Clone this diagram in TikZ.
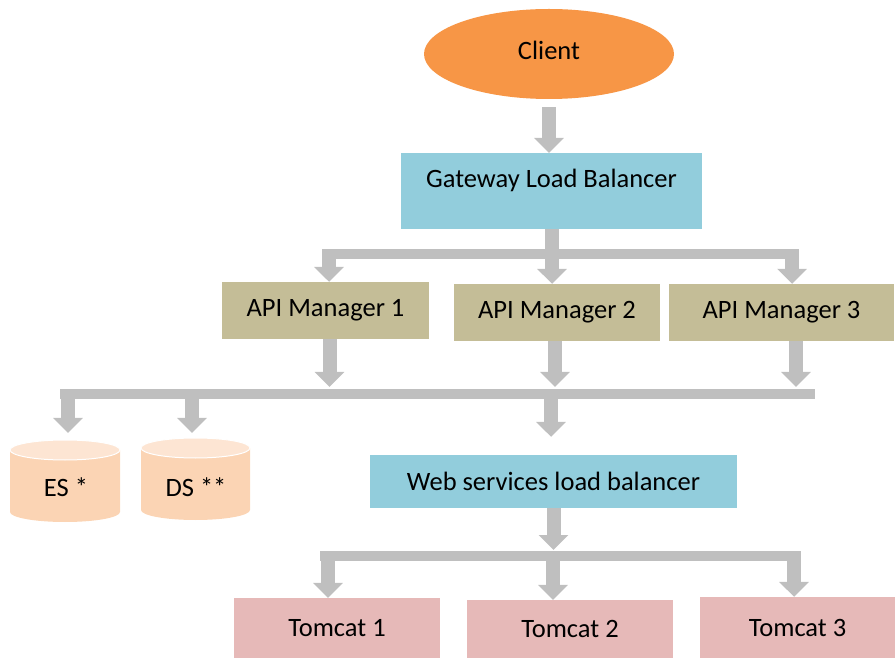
\documentclass[tikz,border=0pt]{standalone}
\usepackage{fontspec}
\setmainfont{Carlito}
\usetikzlibrary{arrows.meta,shapes.geometric}
\definecolor{cOrange}{HTML}{F79646}
\definecolor{cBlue}{HTML}{92CDDC}
\definecolor{cTan}{HTML}{C4BD97}
\definecolor{cPink}{HTML}{E6B9B8}
\definecolor{cGray}{HTML}{BFBFBF}
\definecolor{cBody}{HTML}{FBD4B4}
\definecolor{cTop}{HTML}{FDE5D3}
\begin{document}
\begin{tikzpicture}[x=1pt,y=1pt,
  font=\fontsize{26.5}{30}\selectfont,
  box/.style={rectangle, inner sep=0pt, draw=none},
  garrow/.style={draw=cGray, line width=14pt, -{Triangle[width=29pt,length=15pt]}},
  gshaft/.style={draw=cGray, line width=14pt},
  gbar/.style={draw=cGray, line width=10pt}]
\useasboundingbox (0,0) rectangle (895,657);

% nodes
\node[ellipse, fill=cOrange, minimum width=250pt, minimum height=90pt, inner sep=0pt, text height=20pt, text depth=8pt] (client) at (549,603) {Client};
\node[box, fill=cBlue, minimum width=301pt, text height=34pt, text depth=42pt, anchor=north] (gw) at (551.5,504) {Gateway Load Balancer};
\node[box, fill=cTan, minimum width=207pt, minimum height=57pt] (am1) at (325.5,346.5) {API Manager 1};
\node[box, fill=cTan, minimum width=206pt, minimum height=57pt] (am2) at (557,344.5) {API Manager 2};
\node[box, fill=cTan, minimum width=225pt, minimum height=57pt] (am3) at (781.5,344.5) {API Manager 3};
\node[box, fill=cBlue, minimum width=367pt, minimum height=53pt] (ws) at (553.5,175.5) {Web services load balancer};
\node[box, fill=cPink, minimum width=206pt, minimum height=60pt] (t1) at (337,29) {Tomcat 1};
\node[box, fill=cPink, minimum width=206pt, minimum height=58pt] (t2) at (570,28) {Tomcat 2};
\node[box, fill=cPink, minimum width=195pt, minimum height=61pt] (t3) at (797.5,29.5) {Tomcat 3};

% cylinders
\fill[cBody] (10,207) -- (10,145) arc[start angle=180, end angle=360, x radius=55, y radius=10] -- (120,207) -- cycle;
\filldraw[fill=cTop, draw=white, line width=1pt] (65,207) ellipse[x radius=55, y radius=10];
\node (es) at (66,170) {ES *};
\fill[cBody] (141,209) -- (141,147) arc[start angle=180, end angle=360, x radius=54.5, y radius=10] -- (250,209) -- cycle;
\filldraw[fill=cTop, draw=white, line width=1pt] (195.5,209) ellipse[x radius=54.5, y radius=10];
\node (ds) at (196,170) {DS **};

% bar coordinates
\coordinate (b1L) at (322,402.5);
\coordinate (b1R) at (799,402.5);
\coordinate (b2L) at (60,263);
\coordinate (b2R) at (815,263);
\coordinate (b3L) at (320,101.5);
\coordinate (b3R) at (801,101.5);
\coordinate (esTop) at (68,224);
\coordinate (dsTop) at (192,224);

% connectors
\draw[garrow, shorten <=8pt] (client.south) -- (client.south |- gw.north);
\draw[gshaft] (gw.south) -- (gw.south |- b1L);
\draw[gbar] (b1L) -- (b1R);
\draw[garrow] ([xshift=3.5pt]am1.north |- b1L) -- ([xshift=3.5pt]am1.north);
\draw[garrow] ([xshift=-5pt]am2.north |- b1L) -- ([xshift=-5pt]am2.north);
\draw[garrow] ([xshift=10.5pt]am3.north |- b1L) -- ([xshift=10.5pt]am3.north);

\draw[gbar] (b2L) -- (b2R);
\draw[garrow, shorten >=7pt] ([xshift=4pt]am1.south) -- ([xshift=4pt]am1.south |- b2L);
\draw[garrow, shorten >=7pt] ([xshift=-2pt]am2.south) -- ([xshift=-2pt]am2.south |- b2L);
\draw[garrow, shorten >=7pt] ([xshift=14.5pt]am3.south) -- ([xshift=14.5pt]am3.south |- b2L);
\draw[garrow] (esTop |- b2L) -- (esTop);
\draw[garrow] (dsTop |- b2L) -- (dsTop);
\draw[garrow, shorten >=18pt] ([xshift=-2.5pt]ws.north |- b2L) -- ([xshift=-2.5pt]ws.north);

\draw[gbar] (b3L) -- (b3R);
\draw[garrow, shorten >=5.5pt] (ws.south) -- (ws.south |- b3L);
\draw[garrow] ([xshift=-9pt]t1.north |- b3L) -- ([xshift=-9pt]t1.north);
\draw[garrow] ([xshift=-17pt]t2.north |- b3L) -- ([xshift=-17pt]t2.north);
\draw[garrow] ([xshift=-3.5pt]t3.north |- b3L) -- ([xshift=-3.5pt]t3.north);
\end{tikzpicture}
\end{document}
